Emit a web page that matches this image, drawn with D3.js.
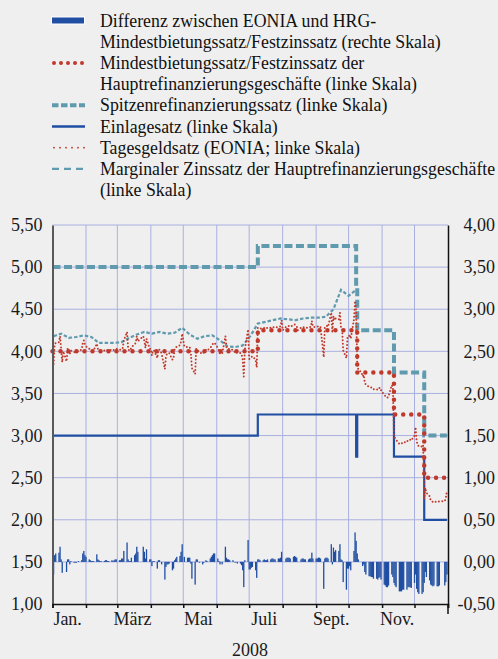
<!DOCTYPE html>
<html>
<head>
<meta charset="utf-8">
<script src="https://cdn.jsdelivr.net/npm/d3@7"></script>
<style>
  body { margin: 0; background: #efefef; }
  svg { display: block; }
</style>
</head>
<body>
<svg id="chart"></svg>
<script>
// TARGET closing days 2008 (no EONIA fixing)
const holidays = ["2008-01-01", "2008-03-21", "2008-03-24", "2008-05-01", "2008-12-25", "2008-12-26"];

// EONIA minus MRO rate, % points, one value per business day
const eoniaSpread = [
  // Jan
  -0.15, 0.08, 0.10, 0.11, 0.18, 0.03, -0.13, 0.00, -0.12, 0.03, 0.03, -0.03, 0.01, -0.01, -0.01, -0.01, 0.00, 0.01, 0.02, 0.10, 0.13, 0.08,
  // Feb
  0.06, 0.03, 0.02, 0.01, 0.01, 0.01, 0.09, 0.03, 0.02, 0.01, 0.01, 0.01, 0.02, 0.02, 0.01, 0.01, 0.02, 0.01, 0.02, 0.03, 0.03,
  // Mar
  0.02, 0.02, 0.04, 0.04, 0.13, 0.23, 0.03, 0.01, 0.01, 0.05, 0.08, 0.10, 0.18, 0.12, 0.18, 0.12, 0.04, 0.15, 0.03,
  // Apr
  0.03, -0.05, 0.01, 0.01, -0.08, 0.02, 0.02, 0.00, -0.03, -0.21, -0.06, -0.03, -0.03, -0.02, -0.10, -0.08, 0.02, 0.04, 0.06, 0.07, 0.12, 0.21,
  // May
  0.06, 0.05, 0.05, 0.05, -0.02, -0.20, -0.27, 0.03, 0.03, 0.00, -0.01, -0.03, -0.01, 0.00, 0.02, 0.01, 0.04, 0.06, 0.08, 0.10, 0.10,
  // Jun
  0.04, 0.01, -0.03, 0.00, -0.03, 0.18, 0.05, 0.03, 0.03, 0.02, 0.02, 0.00, -0.01, 0.00, -0.02, -0.02, -0.04, -0.10, -0.30, 0.02, 0.26,
  // Jul
  -0.09, -0.09, -0.07, -0.06, -0.10, -0.19, 0.03, 0.03, 0.02, 0.02, 0.03, 0.02, 0.02, 0.03, 0.03, 0.04, 0.04, 0.03, 0.03, 0.04, 0.04, 0.05, 0.12,
  // Aug
  0.00, 0.04, 0.05, 0.05, 0.05, 0.04, 0.06, 0.07, 0.06, 0.05, 0.00, 0.03, 0.04, 0.04, 0.03, 0.03, 0.03, 0.04, 0.04, 0.11, 0.04,
  // Sep
  0.04, 0.04, 0.05, 0.05, 0.04, -0.32, 0.04, 0.05, 0.05, 0.04, 0.21, -0.03, 0.17, 0.12, 0.14, 0.13, 0.21, 0.03, 0.02, -0.24, -0.33, -0.08,
  // Oct
  -0.08, -0.05, -0.10, 0.13, 0.35, 0.25, 0.10, 0.03, 0.00, -0.05, -0.03, -0.12, -0.15, -0.17, -0.17, -0.18, -0.18, -0.20, -0.20, -0.21, -0.19, -0.18, -0.21,
  // Nov
  -0.27, -0.28, -0.30, -0.30, -0.28, -0.15, -0.18, -0.25, -0.28, -0.30, -0.35, -0.35, -0.35, -0.33, -0.33, -0.33, -0.30, -0.30, -0.30, -0.31,
  // Dec
  -0.25, -0.15, -0.32, -0.36, -0.38, -0.38, -0.36, -0.25, -0.12, -0.18, -0.22, -0.27, -0.28, -0.29, -0.28, -0.29, -0.29, -0.28, -0.28, -0.24, -0.15
];

// ECB key rates, values valid from each date on
const rateChangeDates = ["2008-01-01", "2008-07-09", "2008-10-08", "2008-10-09", "2008-11-12", "2008-12-10"];
const mroRate = [4.00, 4.25, 4.25, 3.75, 3.25, 2.50];
const marginalLendingRate = [5.00, 5.25, 4.75, 4.25, 3.75, 3.00];
const depositRate = [3.00, 3.25, 2.75, 3.25, 2.75, 2.00];

// marginal rate of the weekly main refinancing tenders (Wednesdays, Jan 2 - Oct 8)
const marginalTenderRate = [
  4.18, 4.21, 4.16, 4.17, 4.19,
  4.17, 4.10, 4.10, 4.10,
  4.11, 4.16, 4.20, 4.23,
  4.21, 4.23, 4.21, 4.22, 4.28,
  4.20, 4.15, 4.18, 4.19,
  4.13, 4.06, 4.05, 4.07,
  4.18, 4.33, 4.35, 4.37, 4.39,
  4.38, 4.37, 4.39, 4.40,
  4.40, 4.41, 4.50, 4.73,
  4.66, 4.73
];

const leftTicks = [1.0, 1.5, 2.0, 2.5, 3.0, 3.5, 4.0, 4.5, 5.0, 5.5];
const rightTicks = [-0.5, 0.0, 0.5, 1.0, 1.5, 2.0, 2.5, 3.0, 3.5, 4.0];
const monthLabels = ["Jan.", "März", "Mai", "Juli", "Sept.", "Nov."];
const monthLabelIdx = [0, 2, 4, 6, 8, 10];
const yearLabel = "2008";

const legendItems = [
  { key: "diff", lines: ["Differenz zwischen EONIA und HRG-", "Mindestbietungssatz/Festzinssatz (rechte Skala)"] },
  { key: "mro", lines: ["Mindestbietungssatz/Festzinssatz der", "Hauptrefinanzierungsgeschäfte (linke Skala)"] },
  { key: "spitze", lines: ["Spitzenrefinanzierungssatz (linke Skala)"] },
  { key: "einlage", lines: ["Einlagesatz (linke Skala)"] },
  { key: "eonia", lines: ["Tagesgeldsatz (EONIA; linke Skala)"] },
  { key: "marginal", lines: ["Marginaler Zinssatz der Hauptrefinanzierungsgeschäfte", "(linke Skala)"] }
];

const width = 498;
const height = 659;
const blue = "#1f4ea3";
const red = "#c0392b";
const teal = "#5f9aae";
const grid = "#a9b0e0";
const serif = '"Liberation Serif", Tinos, "Times New Roman", Times, serif';
const axisFont = 18;
const legendFont = 17.8;

const parse = d3.timeParse("%Y-%m-%d");
const fmtDay = d3.timeFormat("%Y-%m-%d");
const fmtNum = v => v.toFixed(2).replace(".", ",");

const svg = d3.select("#chart")
  .attr("width", width)
  .attr("height", height)
  .attr("font-family", serif);

svg.append("rect").attr("width", width).attr("height", height).attr("fill", "#efefef");

const x = d3.scaleTime()
  .domain([new Date(2008, 0, 1), new Date(2009, 0, 1)])
  .range([52.5, 448]);
const yL = d3.scaleLinear().domain([1.0, 5.5]).range([604, 225]);
const yR = d3.scaleLinear().domain([-0.5, 4.0]).range([604, 225]);

// business days
const days = d3.timeDay.range(new Date(2008, 0, 1), new Date(2009, 0, 1))
  .filter(d => d.getDay() % 6 !== 0 && !holidays.includes(fmtDay(d)));

const changeDates = rateChangeDates.map(parse);
const lastDay = new Date(2008, 11, 31);
const rateAt = (rates, d) => rates[d3.bisectRight(changeDates, d) - 1];
const stepData = rates => changeDates.map((d, i) => ({ date: d, v: rates[i] }))
  .concat([{ date: lastDay, v: rates[rates.length - 1] }]);

const daily = days.slice(0, eoniaSpread.length).map((d, i) => ({
  date: d,
  spread: eoniaSpread[i],
  eonia: rateAt(mroRate, d) + eoniaSpread[i]
}));

const tenderDays = d3.timeWednesday.range(new Date(2008, 0, 2), new Date(2008, 9, 9));
const tenders = tenderDays.slice(0, marginalTenderRate.length).map((d, i) => ({ date: d, v: marginalTenderRate[i] }));

// gridlines
svg.append("g")
  .selectAll("line")
  .data(leftTicks.slice(1))
  .enter()
  .append("line")
  .attr("x1", x.range()[0])
  .attr("x2", x.range()[1])
  .attr("y1", d => yL(d))
  .attr("y2", d => yL(d))
  .attr("stroke", grid)
  .attr("stroke-width", 1);

svg.append("g")
  .selectAll("line")
  .data(d3.timeMonth.range(new Date(2008, 1, 1), new Date(2008, 11, 2)))
  .enter()
  .append("line")
  .attr("x1", d => x(d))
  .attr("x2", d => x(d))
  .attr("y1", yL(5.5))
  .attr("y2", yL(1.0))
  .attr("stroke", grid)
  .attr("stroke-width", 1);

// spread bars (right scale)
svg.append("g")
  .selectAll("rect")
  .data(daily)
  .enter()
  .append("rect")
  .attr("x", d => x(d.date) - 0.65)
  .attr("width", 1.3)
  .attr("y", d => Math.min(yR(0), yR(d.spread)))
  .attr("height", d => Math.abs(yR(d.spread) - yR(0)))
  .attr("fill", blue);

const lineStep = d3.line().x(d => x(d.date)).y(d => yL(d.v)).curve(d3.curveStepAfter);
const lineLin = d3.line().x(d => x(d.date)).y(d => yL(d.v));

// marginal lending rate
svg.append("path")
  .attr("d", lineStep(stepData(marginalLendingRate)))
  .attr("fill", "none")
  .attr("stroke", teal)
  .attr("stroke-width", 4)
  .attr("stroke-dasharray", "8 3.5");

// deposit rate
svg.append("path")
  .attr("d", lineStep(stepData(depositRate)))
  .attr("fill", "none")
  .attr("stroke", blue)
  .attr("stroke-width", 2.2);

// marginal tender rate
svg.append("path")
  .attr("d", lineLin(tenders))
  .attr("fill", "none")
  .attr("stroke", teal)
  .attr("stroke-width", 2.2)
  .attr("stroke-dasharray", "3.5 2");

// MRO rate
svg.append("path")
  .attr("d", lineStep(stepData(mroRate)))
  .attr("fill", "none")
  .attr("stroke", red)
  .attr("stroke-width", 4.5)
  .attr("stroke-linecap", "round")
  .attr("stroke-dasharray", "0 8");

// EONIA
svg.append("path")
  .attr("d", d3.line().x(d => x(d.date)).y(d => yL(d.eonia))(daily))
  .attr("fill", "none")
  .attr("stroke", red)
  .attr("stroke-width", 2)
  .attr("stroke-linecap", "round")
  .attr("stroke-dasharray", "0 3.5");

// axes
const leftAxis = svg.append("g")
  .attr("transform", `translate(${x.range()[0]},0)`)
  .call(d3.axisLeft(yL).tickValues(leftTicks).tickSize(0).tickPadding(10).tickFormat(fmtNum));
leftAxis.select(".domain").attr("stroke", "#5a5a5a").attr("stroke-width", 2);

const rightAxis = svg.append("g")
  .attr("transform", `translate(${x.range()[1]},0)`)
  .call(d3.axisRight(yR).tickValues(rightTicks).tickSize(0).tickFormat(fmtNum));
rightAxis.select(".domain").attr("stroke", "#111").attr("stroke-width", 1.5);
rightAxis.selectAll(".tick text").attr("x", 47).attr("text-anchor", "end");
svg.append("line")
  .attr("x1", x.range()[1]).attr("x2", x.range()[1])
  .attr("y1", yL(1.0)).attr("y2", yL(1.0) + 10)
  .attr("stroke", "#111").attr("stroke-width", 1.5);

const bottomAxis = svg.append("g")
  .attr("transform", `translate(0,${yL(1.0)})`)
  .call(d3.axisBottom(x).ticks(d3.timeMonth.every(1)).tickSize(4).tickFormat(""));
bottomAxis.select(".domain").attr("stroke", "#111").attr("stroke-width", 1.5);
bottomAxis.selectAll(".tick line").attr("stroke", "#111").attr("stroke-width", 1.5);

[leftAxis, rightAxis].forEach(g => {
  g.attr("font-family", serif).attr("font-size", axisFont);
  g.selectAll("text").attr("fill", "#1a1a1a");
});

svg.append("g")
  .selectAll("text")
  .data(monthLabels)
  .enter()
  .append("text")
  .attr("x", (d, i) => x(new Date(2008, monthLabelIdx[i], 15)))
  .attr("y", 625)
  .attr("text-anchor", "middle")
  .attr("font-family", serif)
  .attr("font-size", axisFont)
  .attr("fill", "#1a1a1a")
  .text(d => d);

svg.append("text")
  .attr("x", 250)
  .attr("y", 656)
  .attr("text-anchor", "middle")
  .attr("font-family", serif)
  .attr("font-size", axisFont)
  .attr("fill", "#1a1a1a")
  .text(yearLabel);

// legend
const legend = svg.append("g");
const lineH = 21.2;
const swatch = {
  mro: { c: red, w: 4, dash: "0 7", cap: "round", x1: 54 },
  spitze: { c: teal, w: 4, dash: "6.5 2.5", cap: "butt", x1: 52 },
  einlage: { c: blue, w: 2.6, dash: null, cap: "butt", x1: 52 },
  eonia: { c: red, w: 1.8, dash: "0 6", cap: "round", x1: 54 },
  marginal: { c: teal, w: 2.3, dash: "7 5", cap: "butt", x1: 52 }
};
let row = 0;
legendItems.forEach(item => {
  const cy = 20.5 + row * lineH;
  if (item.key === "diff") {
    legend.append("rect").attr("x", 51).attr("y", cy - 4).attr("width", 34).attr("height", 8)
      .attr("fill", "#fff");
    legend.append("rect").attr("x", 52).attr("y", cy - 3).attr("width", 32).attr("height", 6)
      .attr("fill", blue);
  } else {
    const s = swatch[item.key];
    legend.append("line")
      .attr("x1", s.x1)
      .attr("x2", 85)
      .attr("y1", cy).attr("y2", cy)
      .attr("stroke", s.c)
      .attr("stroke-width", s.w)
      .attr("stroke-linecap", s.cap)
      .attr("stroke-dasharray", s.dash);
  }
  item.lines.forEach((t, j) => {
    legend.append("text")
      .attr("x", 100)
      .attr("y", cy + 6 + j * lineH)
      .attr("font-family", serif)
      .attr("font-size", legendFont)
      .attr("fill", "#111")
      .text(t);
  });
  row += item.lines.length;
});
</script>
</body>
</html>
